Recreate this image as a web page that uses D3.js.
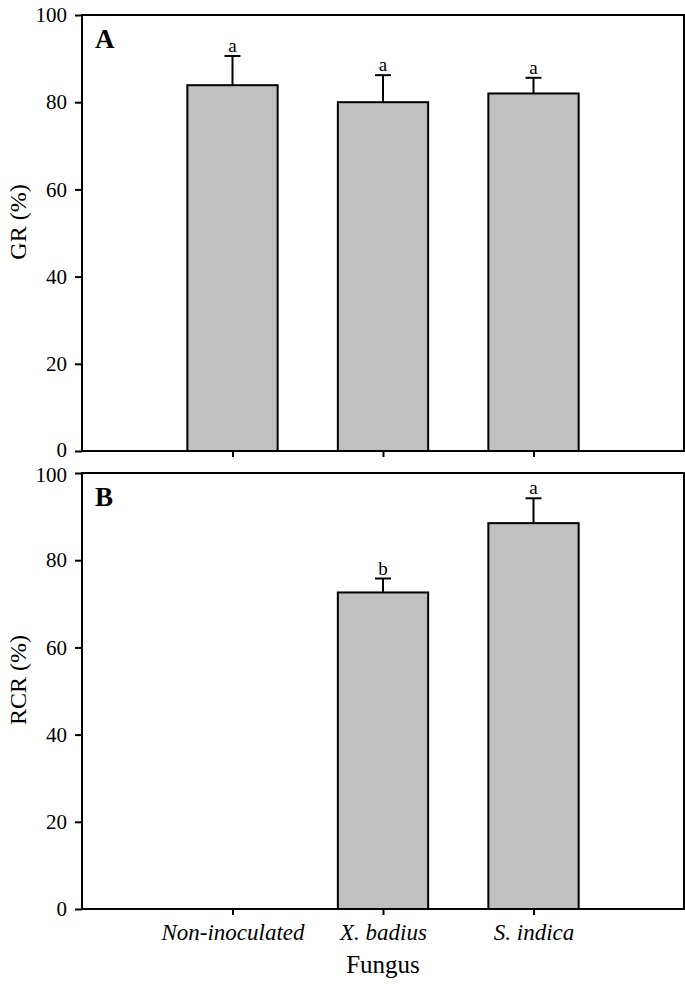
<!DOCTYPE html>
<html><head><meta charset="utf-8">
<script src="https://cdn.jsdelivr.net/npm/d3@7"></script>
<style>body{margin:0;background:#fff}svg{display:block}text{font-family:"Liberation Serif","Times New Roman",serif}</style>
</head><body>
<svg id="c" width="685" height="984"></svg>
<script>
const categories = ["Non-inoculated", "X. badius", "S. indica"];
const grValues = [83.9, 80.0, 82.0];
const grErrors = [6.7, 6.2, 3.6];
const grLetters = ["a", "a", "a"];
const rcrValues = [null, 72.6, 88.5];
const rcrErrors = [null, 3.2, 5.7];
const rcrLetters = [null, "b", "a"];
const yTicks = [0, 20, 40, 60, 80, 100];

const svg = d3.select("#c");
const left = 82, right = 684;
const x = d3.scaleLinear().domain([0, categories.length + 1]).range([left, right]);
const barW = (x(1) - x(0)) * 0.6;

const panels = [
  {label: "A", title: "GR (%)", values: grValues, errors: grErrors, letters: grLetters, top: 15, bottom: 451},
  {label: "B", title: "RCR (%)", values: rcrValues, errors: rcrErrors, letters: rcrLetters, top: 473, bottom: 909}
];

panels.forEach((p, pi) => {
  const y = d3.scaleLinear().domain([0, 100]).range([p.bottom, p.top]);
  const g = svg.append("g");
  categories.forEach((c, i) => {
    const v = p.values[i];
    if (v == null) return;
    const cx = x(i + 1);
    const e = p.errors[i];
    g.append("line").attr("x1", cx).attr("x2", cx).attr("y1", y(v)).attr("y2", y(v + e))
      .attr("stroke", "#000").attr("stroke-width", 2);
    g.append("line").attr("x1", cx - 8).attr("x2", cx + 8).attr("y1", y(v + e)).attr("y2", y(v + e))
      .attr("stroke", "#000").attr("stroke-width", 2);
    g.append("rect").attr("x", cx - barW / 2).attr("y", y(v)).attr("width", barW).attr("height", y(0) - y(v))
      .attr("fill", "#c0c0c0").attr("stroke", "#000").attr("stroke-width", 2);
    g.append("text").attr("x", cx).attr("y", y(v + e) - 4).attr("text-anchor", "middle")
      .attr("font-size", 19).text(p.letters[i]);
  });
  g.append("rect").attr("x", left).attr("y", p.top).attr("width", right - left).attr("height", p.bottom - p.top)
    .attr("fill", "none").attr("stroke", "#000").attr("stroke-width", 2);
  const ya = d3.axisLeft(y).tickValues(yTicks).tickSize(7).tickPadding(8);
  const yg = g.append("g").attr("transform", `translate(${left},0)`).call(ya);
  yg.select(".domain").remove();
  yg.selectAll(".tick line").attr("stroke-width", 2);
  yg.selectAll("text").attr("font-size", 21).attr("font-family", "Liberation Serif").attr("fill", "#000")
    .attr("dy", (d) => (pi === 0 && d === 0) ? "0.24em" : (pi === 1 && d === 100) ? "0.4em" : "0.32em");
  const xa = d3.axisBottom(x).tickValues(categories.map((c, i) => i + 1)).tickSize(6)
    .tickFormat((d) => pi === 1 ? categories[d - 1] : "").tickPadding(9);
  const xg = g.append("g").attr("transform", `translate(0,${p.bottom})`).call(xa);
  xg.select(".domain").remove();
  xg.selectAll(".tick line").attr("stroke-width", 2);
  xg.selectAll("text").attr("font-size", 23).attr("font-style", "italic").attr("font-family", "Liberation Serif").attr("fill", "#000");
  g.append("text").attr("x", 95).attr("y", p.top + 33).attr("font-size", 27).attr("font-weight", "bold").text(p.label);
  g.append("text").attr("transform", `translate(26,${(p.top + p.bottom) / 2 - 11}) rotate(-90)`)
    .attr("text-anchor", "middle").attr("font-size", 24).text(p.title);
});

svg.append("text").attr("x", x(2)).attr("y", 973).attr("text-anchor", "middle").attr("font-size", 25).text("Fungus");
</script>
</body></html>
